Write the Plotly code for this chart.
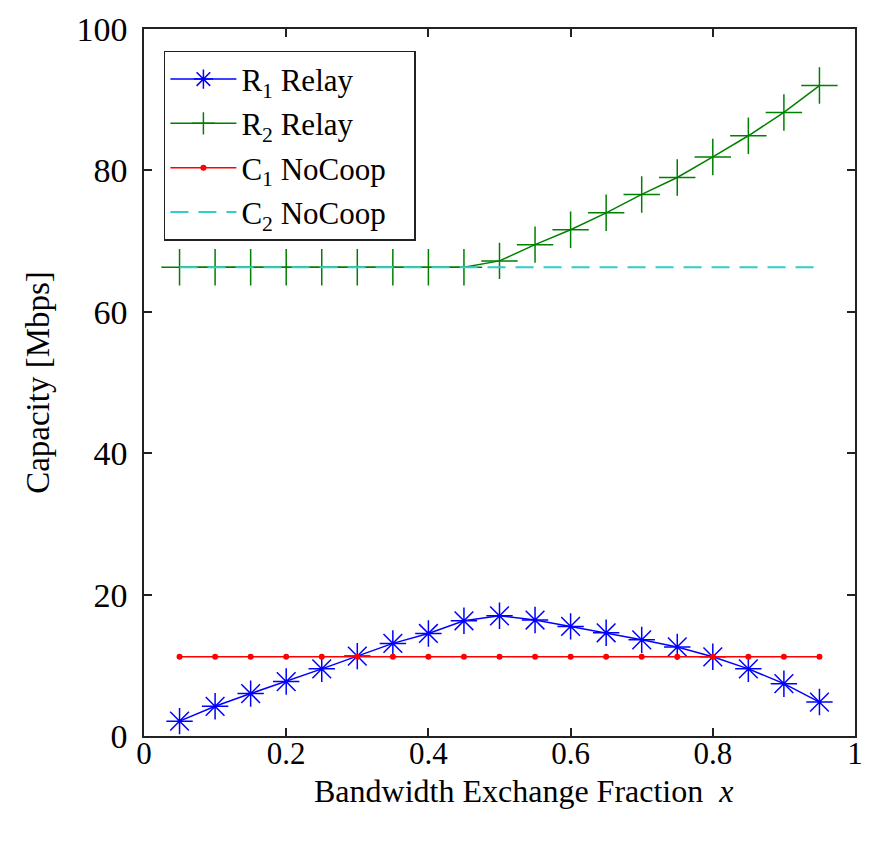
import plotly.graph_objects as go

x = [0.05, 0.10, 0.15, 0.20, 0.25, 0.30, 0.35, 0.40, 0.45, 0.50,
     0.55, 0.60, 0.65, 0.70, 0.75, 0.80, 0.85, 0.90, 0.95]
r1_relay = [2.1, 4.2, 6.0, 7.7, 9.5, 11.3, 13.1, 14.5, 16.3, 17.0,
            16.4, 15.5, 14.6, 13.6, 12.6, 11.2, 9.5, 7.4, 4.8]
r2_relay = [66.3, 66.3, 66.3, 66.3, 66.3, 66.3, 66.3, 66.3, 66.3, 67.2,
            69.5, 71.6, 74.0, 76.6, 79.0, 81.9, 84.9, 88.2, 92.0]
c1_nocoop = [11.2] * 19
c2_nocoop = [66.3] * 19

x_ticks = [0, 0.2, 0.4, 0.6, 0.8, 1]
x_tick_labels = ["0", "0.2", "0.4", "0.6", "0.8", "1"]
y_ticks = [0, 20, 40, 60, 80, 100]

FONT = "Liberation Serif, Times New Roman, serif"
PAD = "&nbsp;&nbsp;&nbsp;"

fig = go.Figure()
fig.add_trace(go.Scatter(
    x=x, y=r1_relay, mode="lines+markers", name="R<sub>1</sub> Relay" + PAD,
    legendgroup="a",
    line=dict(color="#0000ff", width=1.5),
    marker=dict(symbol="asterisk-open", size=22, color="#0000ff",
                line=dict(color="#0000ff", width=1.5))))
fig.add_trace(go.Scatter(
    x=x, y=r2_relay, mode="lines+markers", name="R<sub>2</sub> Relay" + PAD,
    legendgroup="b",
    line=dict(color="#008000", width=1.5),
    marker=dict(symbol="cross-thin-open", size=26, color="#008000",
                line=dict(color="#008000", width=1.5))))
fig.add_trace(go.Scatter(
    x=x, y=c1_nocoop, mode="lines+markers", name="C<sub>1</sub> NoCoop" + PAD,
    legendgroup="c",
    line=dict(color="#ff0000", width=1.5),
    marker=dict(symbol="circle", size=6, color="#ff0000")))
fig.add_trace(go.Scatter(
    x=x, y=c2_nocoop, mode="lines", name="C<sub>2</sub> NoCoop" + PAD,
    legendgroup="d",
    line=dict(color="#33cccc", width=2, dash="18px,10px")))

axis_common = dict(
    showgrid=False, zeroline=False, showline=True, linecolor="#222",
    linewidth=1.5, mirror="ticks", ticks="inside", ticklen=8,
    tickcolor="#222", tickwidth=1.5, ticklabeloverflow="allow",
    automargin=False)

fig.update_layout(
    width=858, height=826,
    margin=dict(l=136, r=11, t=21, b=98),
    paper_bgcolor="white", plot_bgcolor="white",
    font=dict(family=FONT, color="black"),
    showlegend=True,
    legend=dict(x=0.028, y=0.969, xanchor="left", yanchor="top",
                bordercolor="#222", borderwidth=1.5, bgcolor="white",
                font=dict(family=FONT, size=31), tracegroupgap=1,
                itemwidth=66),
    xaxis=dict(range=[0, 1], tickvals=x_ticks, ticktext=x_tick_labels,
               tickfont=dict(family=FONT, size=31),
               ticklabelstandoff=-11,
               **axis_common),
    yaxis=dict(range=[0, 100], tickvals=y_ticks,
               tickfont=dict(family=FONT, size=34),
               ticklabelstandoff=8,
               title=dict(text="Capacity [Mbps]",
                          font=dict(family=FONT, size=33), standoff=17),
               **axis_common),
    annotations=[dict(
        text="Bandwidth Exchange Fraction  <i>x</i>",
        xref="paper", yref="paper", x=0.534, y=-0.05,
        xanchor="center", yanchor="top", showarrow=False,
        font=dict(family=FONT, size=32))],
)

fig.write_html("out.html")
